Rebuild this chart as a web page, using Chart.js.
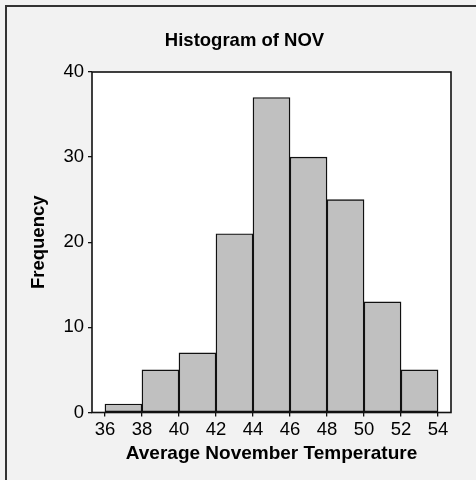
<!DOCTYPE html>
<html>
<head>
<meta charset="utf-8">
<script src="https://cdn.jsdelivr.net/npm/chart.js@4"></script>
<style>
  html, body { margin: 0; padding: 0; background: #f2f2f2; }
  canvas { display: block; }
</style>
</head>
<body>
<canvas id="histogram" width="476" height="480"></canvas>
<script>
// histogram data
const binEdges = [36, 38, 40, 42, 44, 46, 48, 50, 52, 54];
const counts = [1, 5, 7, 21, 37, 30, 25, 13, 5];
const xTicks = [36, 38, 40, 42, 44, 46, 48, 50, 52, 54];
const yTicks = [0, 10, 20, 30, 40];

const chartTitle = 'Histogram of NOV';
const xTitle = 'Average November Temperature';
const yTitle = 'Frequency';

const FONT = '"Liberation Sans", Arial, sans-serif';

document.addEventListener("DOMContentLoaded", function () {
  const canvas = document.getElementById('histogram');

  const points = counts.map(function (c, i) {
    return { x: (binEdges[i] + binEdges[i + 1]) / 2, y: c };
  });

  // background, outer frame, white plot area, plot border, title
  const framePlugin = {
    id: 'frame',
    beforeDraw: function (chart) {
      const ctx = chart.ctx;
      const a = chart.chartArea;
      ctx.save();
      ctx.fillStyle = '#f2f2f2';
      ctx.fillRect(0, 0, chart.width, chart.height);
      ctx.strokeStyle = '#333';
      ctx.lineWidth = 2;
      ctx.beginPath();
      ctx.moveTo(chart.width, 6);
      ctx.lineTo(6, 6);
      ctx.lineTo(6, chart.height);
      ctx.stroke();
      ctx.fillStyle = '#ffffff';
      ctx.fillRect(a.left, a.top, a.right - a.left, a.bottom - a.top);

      ctx.fillStyle = '#000';
      ctx.font = 'bold 18.5px ' + FONT;
      ctx.textAlign = 'center';
      ctx.textBaseline = 'alphabetic';
      ctx.fillText(chartTitle, 244.5, 45.7);
      ctx.restore();
    },
    afterDatasetsDraw: function (chart) {
      const ctx = chart.ctx;
      const a = chart.chartArea;
      ctx.save();
      ctx.strokeStyle = '#111';
      ctx.lineWidth = 1.6;
      ctx.strokeRect(a.left, a.top, a.right - a.left, a.bottom - a.top);
      ctx.restore();
    }
  };

  new Chart(canvas.getContext('2d'), {
    type: 'bar',
    data: {
      datasets: [{
        data: points,
        backgroundColor: '#c0c0c0',
        borderColor: '#111',
        borderWidth: 1.4,
        borderSkipped: false,
        barPercentage: 1,
        categoryPercentage: 1
      }]
    },
    options: {
      responsive: false,
      animation: false,
      layout: { padding: { left: 0, top: 72, right: 25, bottom: 0 } },
      plugins: {
        legend: { display: false },
        tooltip: { enabled: false }
      },
      scales: {
        x: {
          type: 'linear',
          min: 35.3,
          max: 54.7,
          offset: false,
          afterBuildTicks: function (scale) {
            scale.ticks = xTicks.map(function (v) { return { value: v }; });
          },
          afterFit: function (scale) { scale.height = 67.5; },
          grid: {
            offset: false,
            drawOnChartArea: false,
            drawTicks: true,
            tickLength: 4,
            color: '#111',
            lineWidth: 1.3
          },
          border: { display: false },
          ticks: {
            color: '#000',
            padding: 2,
            maxRotation: 0,
            autoSkip: false,
            font: { family: FONT, size: 18.5 }
          },
          title: {
            display: true,
            text: xTitle,
            color: '#000',
            padding: { top: 0, bottom: 14.7 },
            font: { family: FONT, size: 19, weight: 'bold' }
          }
        },
        y: {
          min: 0,
          max: 40,
          afterBuildTicks: function (scale) {
            scale.ticks = yTicks.map(function (v) { return { value: v }; });
          },
          afterFit: function (scale) { scale.width = 92; },
          grid: {
            drawOnChartArea: false,
            drawTicks: true,
            tickLength: 4,
            color: '#111',
            lineWidth: 1.3
          },
          border: { display: false },
          ticks: {
            color: '#000',
            padding: 4,
            font: { family: FONT, size: 18.5 }
          },
          title: {
            display: true,
            text: yTitle,
            color: '#000',
            padding: { top: 28, bottom: 0 },
            font: { family: FONT, size: 18.5, weight: 'bold' }
          }
        }
      }
    },
    plugins: [framePlugin]
  });
});
</script>
</body>
</html>
